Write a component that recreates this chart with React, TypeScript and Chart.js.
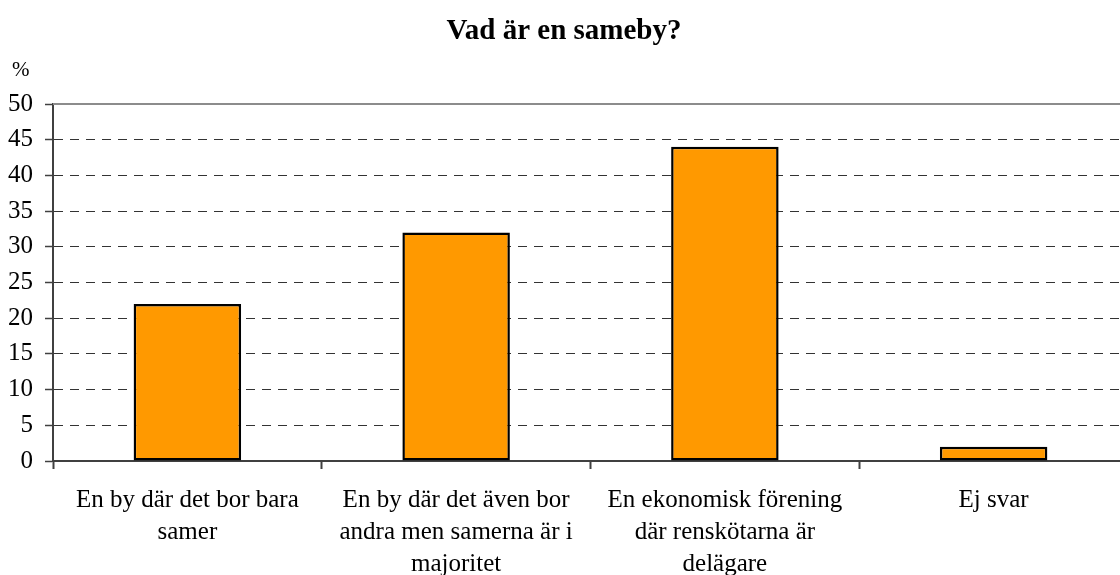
import React, { useEffect, useRef } from "react";
import { Chart, registerables } from "chart.js";

Chart.register(...registerables);

const TITLE = "Vad är en sameby?";
const UNIT_LABEL = "%";
const CATEGORIES: string[][] = [
  ["En by där det bor bara", "samer"],
  ["En by där det även bor", "andra men samerna är i", "majoritet"],
  ["En ekonomisk förening", "där renskötarna är", "delägare"],
  ["Ej svar"],
];
const VALUES: number[] = [22, 32, 44, 2];
const Y_MIN = 0;
const Y_MAX = 50;
const Y_STEP = 5;

const FONT = "'Liberation Serif', 'Times New Roman', Times, serif";

export default function App() {
  const ref = useRef<HTMLCanvasElement | null>(null);

  useEffect(() => {
    if (!ref.current) return;
    document.body.style.overflow = "hidden";

    const extras = {
      id: "extras",
      beforeDatasetsDraw(chart: any) {
        const { ctx, chartArea } = chart;
        ctx.save();
        ctx.strokeStyle = "#8c8c8c";
        ctx.lineWidth = 2;
        ctx.beginPath();
        ctx.moveTo(chartArea.left, chartArea.top);
        ctx.lineTo(chartArea.right, chartArea.top);
        ctx.stroke();
        ctx.restore();
      },
      afterDraw(chart: any) {
        const { ctx } = chart;
        ctx.save();
        ctx.fillStyle = "#000";
        ctx.font = `21px ${FONT}`;
        ctx.textBaseline = "alphabetic";
        ctx.textAlign = "left";
        ctx.fillText(UNIT_LABEL, 12, 76);
        ctx.restore();
      },
    };

    const chart = new Chart(ref.current, {
      type: "bar",
      data: {
        labels: CATEGORIES,
        datasets: [
          {
            data: VALUES,
            backgroundColor: "#FF9900",
            borderColor: "#000000",
            borderWidth: 2.5,
            borderSkipped: false,
            barPercentage: 0.4,
            categoryPercentage: 1,
          },
        ],
      },
      options: {
        responsive: false,
        animation: false,
        events: [],
        layout: { padding: { left: 0, right: 12, top: 0, bottom: 0 } },
        plugins: {
          legend: { display: false },
          tooltip: { enabled: false },
          title: {
            display: true,
            text: TITLE,
            color: "#000",
            font: { family: FONT, size: 29, weight: "bold", lineHeight: 1.2 },
            padding: { top: 14, bottom: 55.2 },
          },
        },
        scales: {
          x: {
            type: "category",
            grid: {
              offset: true,
              drawOnChartArea: false,
              drawTicks: true,
              tickLength: 8,
              tickColor: "#404040",
              tickWidth: 2,
            },
            border: { display: true, color: "#404040", width: 2 },
            ticks: {
              color: "#000",
              font: { family: FONT, size: 25, lineHeight: 1.28 },
              padding: 15,
              maxRotation: 0,
              minRotation: 0,
              autoSkip: false,
            },
            afterFit: (s: any) => {
              s.height = 114;
            },
          },
          y: {
            min: Y_MIN,
            max: Y_MAX,
            grid: {
              color: (c: any) =>
                c.tick && (c.tick.value === Y_MAX || c.tick.value === Y_MIN)
                  ? "rgba(0,0,0,0)"
                  : "#333333",
              lineWidth: 1,
              drawTicks: true,
              tickLength: 8,
              tickColor: "#404040",
              tickWidth: 1.5,
            },
            border: { display: true, color: "#404040", width: 2, dash: [9, 7] },
            ticks: {
              stepSize: Y_STEP,
              color: "#000",
              font: { family: FONT, size: 25 },
              padding: 12,
            },
            afterFit: (s: any) => {
              s.width = 53;
            },
          },
        },
      },
      plugins: [extras],
    });

    return () => chart.destroy();
  }, []);

  return (
    <div
      style={{
        position: "absolute",
        left: 0,
        top: 0,
        width: 1120,
        height: 575,
        overflow: "hidden",
        background: "#fff",
      }}
    >
      <canvas
        ref={ref}
        width={1140}
        height={575}
        style={{ width: 1140, height: 575, display: "block" }}
      />
    </div>
  );
}
